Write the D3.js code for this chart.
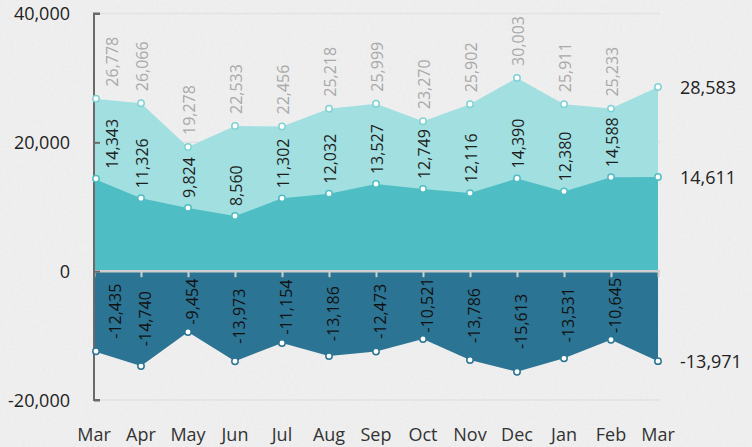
<!DOCTYPE html>
<html>
<head>
<meta charset="utf-8">
<script src="https://cdn.jsdelivr.net/npm/d3@7"></script>
<style>
  html, body { margin: 0; padding: 0; background: #eeeeee; }
  svg { display: block; font-family: "Open Sans", "Noto Sans", sans-serif; }
</style>
</head>
<body>
<svg id="chart" width="752" height="447"></svg>
<script>
const months = ["Mar","Apr","May","Jun","Jul","Aug","Sep","Oct","Nov","Dec","Jan","Feb","Mar"];
const topValues = [26778, 26066, 19278, 22533, 22456, 25218, 25999, 23270, 25902, 30003, 25911, 25233, 28583];
const midValues = [14343, 11326, 9824, 8560, 11302, 12032, 13527, 12749, 12116, 14390, 12380, 14588, 14611];
const negValues = [-12435, -14740, -9454, -13973, -11154, -13186, -12473, -10521, -13786, -15613, -13531, -10645, -13971];
const yTicks = [40000, 20000, 0, -20000];

const colors = { top: "#a1dfe0", mid: "#4fbec4", neg: "#2b7494" };
const idx = d3.range(months.length);

const svg = d3.select("#chart");
const W = 752, H = 447;
const axisX = 94, plotRight = 660;

const x = d3.scalePoint().domain(idx).range([axisX, 658]);
const y = d3.scaleLinear().domain([-20000, 40000]).range([400, 13.5]);
const locale = d3.formatLocale({ decimal: ".", thousands: ",", grouping: [3], currency: ["", ""], minus: "-" });
const fmt = locale.format(",");

// background with subtle paper texture
const defs = svg.append("defs");
const f = defs.append("filter").attr("id", "noise").attr("x", 0).attr("y", 0).attr("width", "100%").attr("height", "100%");
f.append("feTurbulence").attr("type", "fractalNoise").attr("baseFrequency", 0.35).attr("numOctaves", 3).attr("seed", 4).attr("result", "t");
f.append("feColorMatrix").attr("type", "matrix")
  .attr("values", "0 0 0 0 0.55  0 0 0 0 0.55  0 0 0 0 0.55  0 0 0 -1.1 0.75");
svg.append("rect").attr("width", W).attr("height", H).attr("fill", "#efefef");
svg.append("rect").attr("width", W).attr("height", H).attr("filter", "url(#noise)").attr("opacity", 0.12);

// gridlines
svg.append("g").selectAll("line").data(yTicks).join("line")
  .attr("x1", axisX).attr("x2", plotRight)
  .attr("y1", d => y(d)).attr("y2", d => y(d))
  .attr("stroke", "#e2e2e2").attr("stroke-width", 1.5);

// areas
const area = vals => d3.area().x((d, i) => x(i)).y0(y(0)).y1(d => y(d))(vals);
svg.append("path").attr("d", area(topValues)).attr("fill", colors.top);
svg.append("path").attr("d", area(midValues)).attr("fill", colors.mid);
svg.append("path").attr("d", area(negValues)).attr("fill", colors.neg);

// zero x-axis
const xAxis = d3.axisBottom(x).tickSize(6).tickFormat("");
const gx = svg.append("g").attr("transform", `translate(0,${y(0)})`).call(xAxis);
gx.select(".domain").attr("stroke", "#cfcfcf").attr("stroke-width", 2.5)
  .attr("d", `M${axisX},0H${plotRight}`);
gx.selectAll(".tick line").attr("stroke", "#cfcfcf").attr("stroke-width", 2);

// month labels
svg.append("g").selectAll("text").data(months).join("text")
  .attr("x", (d, i) => x(i)).attr("y", 441)
  .attr("text-anchor", "middle").attr("font-size", 18).attr("fill", "#333")
  .text(d => d);

// y axis
const yAxis = d3.axisRight(y).tickValues(yTicks).tickSize(6).tickFormat("");
const gy = svg.append("g").attr("transform", `translate(${axisX},0)`).call(yAxis);
gy.select(".domain").attr("stroke", "#6a6a6a").attr("stroke-width", 2)
  .attr("d", `M6,${y(40000)}H0V${y(-20000)}H6`);
gy.selectAll(".tick line").attr("stroke", "#6a6a6a").attr("stroke-width", 2);
svg.append("g").selectAll("text").data(yTicks).join("text")
  .attr("x", 70).attr("y", d => y(d)).attr("dy", "0.38em")
  .attr("text-anchor", "end").attr("font-size", 18).attr("fill", "#222")
  .text(d => fmt(d));

// dots
function dots(vals, stroke) {
  svg.append("g").selectAll("circle").data(vals).join("circle")
    .attr("cx", (d, i) => Math.max(x(i), axisX + 2)).attr("cy", d => y(d))
    .attr("r", 3.2).attr("fill", "#fff").attr("stroke", stroke).attr("stroke-width", 1.5);
}
dots(topValues, "#7fd2d5");
dots(midValues, colors.mid);
dots(negValues, colors.neg);

// rotated data labels
function labels(vals, color, yFn, anchor, dyEm) {
  svg.append("g").selectAll("text").data(vals).join("text")
    .attr("transform", (d, i) => `translate(${Math.max(x(i), axisX + 17)},${yFn(d)}) rotate(-90)`)
    .attr("dy", dyEm)
    .attr("text-anchor", anchor).attr("font-size", 16).attr("fill", color)
    .text(d => fmt(d));
}
labels(topValues.slice(0, -1), "#a9a9a9", d => y(d) - 12, "start", "0.45em");
labels(midValues.slice(0, -1), "#1e1e1e", d => y(d) - 10, "start", "0.45em");
labels(negValues.slice(0, -1), "#111", d => y(d / 2), "middle", "0.62em");

// end labels
const last = months.length - 1;
const endVals = [topValues[last], midValues[last], negValues[last]];
svg.append("g").selectAll("text").data(endVals).join("text")
  .attr("x", 680).attr("y", d => y(d)).attr("dy", "0.38em")
  .attr("font-size", 18).attr("fill", "#222")
  .text(d => fmt(d));
</script>
</body>
</html>
